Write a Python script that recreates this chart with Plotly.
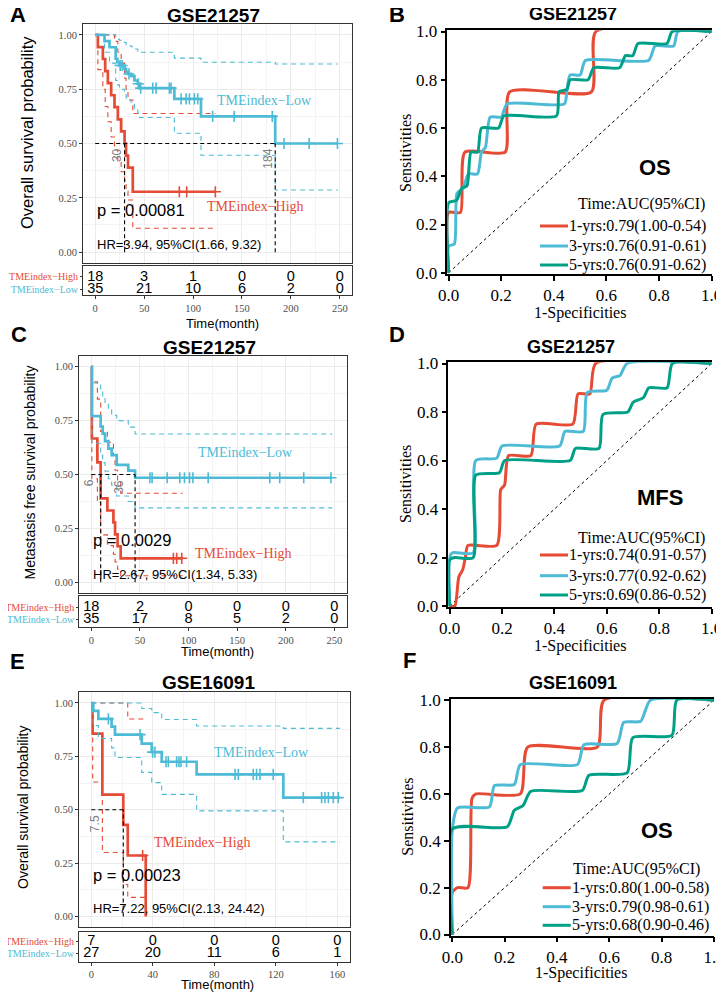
import numpy as np
import plotly.graph_objects as go

W, H = 724, 992
PAGE_PAD = 8  # the page body adds an 8px margin before the figure starts
RED = "#E64B35"
BLUE = "#4DBBD5"
GREEN = "#00A087"
SERIF = "Liberation Serif"
SANS = "Liberation Sans"
GRAY_TXT = "#4D4D4D"
BORDER = "#333333"
MINUS = "\u2212"

# ---------- A: GSE21257 overall survival ----------
A_HIGH_T = [0, 2.7, 7.8, 10.2, 12.9, 16.3, 19.7, 23.1, 26.5, 30.0, 31.5, 33.5, 38.4]
A_HIGH_S = [1, 0.944, 0.889, 0.833, 0.778, 0.722, 0.667, 0.611, 0.556, 0.5, 0.444, 0.389, 0.278]
A_HIGH_UP = [1, 1, 1, 1, 1, 1, 0.97, 0.92, 0.87, 0.80, 0.75, 0.70, 0.638]
A_HIGH_LO = [1, 0.84, 0.75, 0.67, 0.60, 0.53, 0.47, 0.42, 0.37, 0.33, 0.28, 0.24, 0.11]
A_HIGH_END = 122.8
A_HIGH_CENS = [86, 93.5, 122.8]

A_LOW_T = [0, 9.5, 14.6, 20.9, 22.6, 24.8, 29.9, 31.6, 33.3, 36.7, 40.1, 43.5, 45.2, 80.9, 108.1, 184]
A_LOW_S = [1, 0.971, 0.943, 0.89, 0.874, 0.859, 0.844, 0.83, 0.82, 0.81, 0.79, 0.775, 0.755, 0.705, 0.625, 0.5]
A_LOW_UP = [1, 1, 1, 0.99, 0.98, 0.975, 0.965, 0.955, 0.95, 0.945, 0.935, 0.925, 0.92, 0.893, 0.874, 0.866]
A_LOW_LO = [1, 0.92, 0.87, 0.79, 0.77, 0.75, 0.73, 0.71, 0.70, 0.68, 0.66, 0.64, 0.62, 0.547, 0.446, 0.286]
A_LOW_END = 248
A_LOW_CENS = [25.5, 27.5, 34.5, 44, 46.5, 58.8, 62.2, 75.8, 77.5, 87.8, 92.9, 96.3, 101.4, 104.8,
              120, 142, 181, 193, 218.7, 247.6]

A_MEDIANS = [30, 184]
A_MEDIAN_LABELS = [30, 184]
A_RISK_T = [0, 50, 100, 150, 200, 250]
A_RISK_HIGH = [18, 3, 1, 0, 0, 0]
A_RISK_LOW = [35, 21, 10, 6, 2, 0]

# ---------- C: GSE21257 metastasis free survival ----------
C_HIGH_T = [0, 0.5, 6.2, 9.6, 16.5, 22.7, 24.4, 27.0, 30.2]
C_HIGH_S = [1, 0.667, 0.556, 0.389, 0.333, 0.278, 0.222, 0.167, 0.111]
C_HIGH_UP = [1, 0.93, 0.85, 0.70, 0.65, 0.59, 0.52, 0.47, 0.413]
C_HIGH_LO = [1, 0.48, 0.37, 0.22, 0.17, 0.13, 0.094, 0.06, 0.03]
C_HIGH_END = 94
C_HIGH_CENS = [84.4, 87.8, 93]

C_LOW_T = [0, 0.5, 9.6, 11.7, 14.1, 17.5, 20.9, 26.1, 38.0, 45.0]
C_LOW_S = [1, 0.771, 0.722, 0.69, 0.655, 0.62, 0.59, 0.545, 0.518, 0.485]
C_LOW_UP = [1, 0.925, 0.89, 0.86, 0.83, 0.80, 0.775, 0.75, 0.72, 0.688]
C_LOW_LO = [1, 0.645, 0.59, 0.555, 0.515, 0.48, 0.45, 0.40, 0.375, 0.345]
C_LOW_END = 248
C_LOW_CENS = [60.3, 62.5, 78, 91, 95.8, 101, 104.5, 120.2, 183.6, 193.8, 218.5, 246.5]

C_MEDIANS = [9.6, 45]
C_MEDIAN_LABELS = [6, 36]
C_RISK_T = [0, 50, 100, 150, 200, 250]
C_RISK_HIGH = [18, 2, 0, 0, 0, 0]
C_RISK_LOW = [35, 17, 8, 5, 2, 0]

# ---------- E: GSE16091 overall survival ----------
E_HIGH_T = [0, 0.9, 7.2, 20.8, 23.7, 35.4]
E_HIGH_S = [1, 0.857, 0.571, 0.429, 0.286, 0.0]
E_HIGH_UP = [1, 1, 1, 1, 0.925, 0.925]
E_HIGH_LO = [1, 0.63, 0.30, 0.15, 0.09, 0.09]
E_HIGH_END = 35.4
E_HIGH_CENS = [33.4]

E_LOW_T = [0, 1.3, 4.6, 13.2, 15.4, 32.8, 39.3, 45.8, 68.5, 124.9]
E_LOW_S = [1, 0.963, 0.926, 0.889, 0.852, 0.81, 0.77, 0.725, 0.666, 0.557]
E_LOW_UP = [1, 1, 1, 1, 1, 0.974, 0.955, 0.923, 0.892, 0.881]
E_LOW_LO = [1, 0.894, 0.834, 0.79, 0.745, 0.675, 0.627, 0.572, 0.495, 0.35]
E_LOW_END = 161.7
E_LOW_CENS = [11.1, 31.7, 39.9, 41.4, 48.6, 50.1, 55.5, 57, 58.3, 62, 93.5, 95.6, 105.3, 107.5,
              109.7, 118.3, 137.9, 149.8, 152, 154.2, 157.4, 160.6]

E_MEDIANS = [20.8]
E_MEDIAN_LABELS = [7.5]
E_RISK_T = [0, 40, 80, 120, 160]
E_RISK_HIGH = [7, 0, 0, 0, 0]
E_RISK_LOW = [27, 20, 11, 6, 1]

# ---------- ROC curves (1-specificity, sensitivity) ----------
B_NAMES = ["1-yrs:0.79(1.00-0.54)", "3-yrs:0.76(0.91-0.61)", "5-yrs:0.76(0.91-0.62)"]
B_FPR_1 = [0, 0, 0.045, 0.062, 0.215, 0.232, 0.543, 0.56, 1]
B_TPR_1 = [0, 0.25, 0.25, 0.5, 0.5, 0.75, 0.75, 1, 1]
B_FPR_3 = [0, 0, 0.022, 0.032, 0.055, 0.075, 0.11, 0.125, 0.14, 0.158, 0.2, 0.222, 0.44, 0.45,
           0.462, 0.5, 0.52, 0.76, 0.785, 0.855, 0.872, 1]
B_TPR_3 = [0, 0.11, 0.12, 0.33, 0.35, 0.41, 0.41, 0.5, 0.52, 0.645, 0.645, 0.70, 0.70, 0.76,
           0.82, 0.82, 0.88, 0.88, 0.94, 0.94, 1, 1]
B_FPR_5 = [0, 0, 0.03, 0.05, 0.07, 0.085, 0.11, 0.125, 0.19, 0.21, 0.41, 0.42, 0.45, 0.462,
           0.53, 0.552, 0.65, 0.672, 0.70, 0.72, 0.83, 0.85, 1]
B_TPR_5 = [0, 0.29, 0.30, 0.35, 0.36, 0.50, 0.50, 0.60, 0.60, 0.65, 0.65, 0.75, 0.76, 0.80,
           0.80, 0.85, 0.85, 0.90, 0.90, 0.95, 0.95, 1, 1]

D_NAMES = ["1-yrs:0.74(0.91-0.57)", "3-yrs:0.77(0.92-0.62)", "5-yrs:0.69(0.86-0.52)"]
D_FPR_1 = [0, 0.02, 0.035, 0.05, 0.06, 0.07, 0.18, 0.195, 0.21, 0.225, 0.31, 0.33, 0.47, 0.49,
           0.535, 0.557, 1]
D_TPR_1 = [0, 0, 0.12, 0.15, 0.2, 0.25, 0.25, 0.48, 0.5, 0.62, 0.62, 0.75, 0.75, 0.875,
           0.875, 1, 1]
D_FPR_3 = [0, 0, 0.01, 0.09, 0.10, 0.18, 0.20, 0.42, 0.44, 0.51, 0.525, 0.60, 0.62, 0.65, 0.677, 1]
D_TPR_3 = [0, 0.20, 0.22, 0.22, 0.60, 0.61, 0.66, 0.66, 0.72, 0.72, 0.88, 0.89, 0.94, 0.95, 1, 1]
D_FPR_5 = [0, 0, 0.02, 0.09, 0.10, 0.19, 0.21, 0.46, 0.48, 0.57, 0.585, 0.68, 0.70, 0.74, 0.76,
           0.83, 0.85, 1]
D_TPR_5 = [0, 0.19, 0.20, 0.20, 0.54, 0.55, 0.60, 0.60, 0.65, 0.65, 0.79, 0.80, 0.84, 0.86, 0.90,
           0.90, 1, 1]

F_NAMES = ["1-yrs:0.80(1.00-0.58)", "3-yrs:0.79(0.98-0.61)", "5-yrs:0.68(0.90-0.46)"]
F_FPR_1 = [0, 0, 0.02, 0.06, 0.075, 0.09, 0.26, 0.288, 0.554, 0.58, 1]
F_TPR_1 = [0, 0.18, 0.2, 0.2, 0.58, 0.6, 0.6, 0.8, 0.8, 1, 1]
F_FPR_3 = [0, 0, 0.02, 0.142, 0.161, 0.237, 0.26, 0.478, 0.503, 0.63, 0.655, 0.72, 0.757, 1]
F_TPR_3 = [0, 0.45, 0.54, 0.545, 0.635, 0.64, 0.725, 0.725, 0.81, 0.815, 0.905, 0.91, 1, 1]
F_FPR_5 = [0, 0, 0.21, 0.237, 0.27, 0.30, 0.497, 0.522, 0.668, 0.69, 0.839, 0.858, 1]
F_TPR_5 = [0, 0.45, 0.46, 0.53, 0.55, 0.611, 0.615, 0.68, 0.69, 0.84, 0.85, 1, 1]


# page pixel -> paper fraction
def fx(p):
    return (p - PAGE_PAD) / W


def fy(p):
    return 1 - (p - PAGE_PAD) / H


fig = go.Figure()
annotations = []
shapes = []


def step(xa, ya, t, s, t_end, color, width, dash):
    fig.add_trace(go.Scatter(x=list(t) + [t_end], y=list(s) + [s[-1]], mode="lines",
                             line=dict(color=color, width=width, dash=dash, shape="hv"),
                             xaxis=xa, yaxis=ya, showlegend=False, hoverinfo="skip"))


def add_group(xa, ya, t, s, up, lo, t_end, cens, color):
    step(xa, ya, t, up, t_end, color, 1.1, "5px,4px")
    step(xa, ya, t, lo, t_end, color, 1.1, "5px,4px")
    step(xa, ya, t, s, t_end, color, 2.7, "solid")
    idx = np.searchsorted(t, cens, side="right") - 1
    fig.add_trace(go.Scatter(x=cens, y=np.array(s)[idx], mode="markers",
                             marker=dict(symbol="cross-thin-open", size=8, color=color,
                                         line=dict(color=color, width=1.6)),
                             xaxis=xa, yaxis=ya, showlegend=False, hoverinfo="skip"))


def add_medians(xa, ya, medians, labels):
    dash = dict(color="black", width=1.1, dash="4px,3px")
    fig.add_trace(go.Scatter(x=[0, max(medians)], y=[0.5, 0.5], mode="lines", line=dash,
                             xaxis=xa, yaxis=ya, showlegend=False, hoverinfo="skip"))
    for m in medians:
        fig.add_trace(go.Scatter(x=[m, m], y=[0, 0.5], mode="lines", line=dash,
                                 xaxis=xa, yaxis=ya, showlegend=False, hoverinfo="skip"))
    for lab in labels:
        annotations.append(dict(x=lab, y=0.5, xref=xa, yref=ya, text=f"{lab:g}", textangle=-90,
                                showarrow=False, xanchor="center", yanchor="top", xshift=-8, yshift=-3,
                                font=dict(family=SANS, size=12, color="#7F7F7F")))


def add_risk(xa, ya, times, high, low):
    for yv, vals in [(1, high), (0, low)]:
        fig.add_trace(go.Scatter(x=times, y=[yv] * len(times), mode="text", text=[str(v) for v in vals],
                                 textfont=dict(family=SANS, size=14.5, color="black"),
                                 xaxis=xa, yaxis=ya, showlegend=False, hoverinfo="skip"))


def km_layout(n_main, n_risk, xpx, ypx, rypx, xr, dt, risk_range):
    xm, ym = f"x{n_main}", f"y{n_main}"
    xk, yk = f"x{n_risk}", f"y{n_risk}"
    box = dict(showline=True, mirror=True, linecolor=BORDER, linewidth=1, zeroline=False)
    tickfont = dict(family=SERIF, size=10.5, color=GRAY_TXT)
    fig.layout[f"xaxis{n_main}"] = dict(domain=[fx(xpx[0]), fx(xpx[1])], range=xr, anchor=ym,
                                        showticklabels=False, ticks="", dtick=dt, tick0=0,
                                        showgrid=True, gridcolor="#EBEBEB",
                                        minor=dict(dtick=dt / 2, showgrid=True, gridcolor="#F4F4F4"), **box)
    fig.layout[f"yaxis{n_main}"] = dict(domain=[fy(ypx[1]), fy(ypx[0])], range=[-0.05, 1.05], anchor=xm,
                                        dtick=0.25, tick0=0, tickformat=".2f", tickfont=tickfont,
                                        ticks="outside", ticklen=3, tickcolor=BORDER,
                                        showgrid=True, gridcolor="#EBEBEB",
                                        minor=dict(dtick=0.125, showgrid=True, gridcolor="#F4F4F4"), **box)
    fig.layout[f"xaxis{n_risk}"] = dict(domain=[fx(xpx[0]), fx(xpx[1])], range=xr, anchor=yk,
                                        dtick=dt, tick0=0, ticks="outside", ticklen=3, tickcolor=BORDER,
                                        tickfont=tickfont, showgrid=False, **box)
    fig.layout[f"yaxis{n_risk}"] = dict(domain=[fy(rypx[1]), fy(rypx[0])], range=risk_range, anchor=xk,
                                        tickvals=[1, 0],
                                        ticktext=[f'<span style="color:{RED}">TMEindex{MINUS}High</span>',
                                                  f'<span style="color:{BLUE}">TMEindex{MINUS}Low</span>'],
                                        tickfont=dict(family=SERIF, size=10), ticks="outside", ticklen=2,
                                        tickcolor=BORDER, showgrid=False, **box)


def km_texts(xa, ya, low_xy, high_xy, p_text, hr_text):
    annotations.append(dict(x=low_xy[0], y=low_xy[1], xref=xa, yref=ya, text=f"TMEindex{MINUS}Low",
                            showarrow=False, font=dict(family=SERIF, size=14, color=BLUE)))
    annotations.append(dict(x=high_xy[0], y=high_xy[1], xref=xa, yref=ya, text=f"TMEindex{MINUS}High",
                            showarrow=False, font=dict(family=SERIF, size=14, color=RED)))
    annotations.append(dict(x=0, y=0.195, xref=xa, yref=ya, text=p_text, xanchor="left",
                            showarrow=False, font=dict(family=SANS, size=16.5, color="black")))
    annotations.append(dict(x=0, y=0.036, xref=xa, yref=ya, text=hr_text, xanchor="left",
                            showarrow=False, font=dict(family=SANS, size=13, color="black")))


def roc_panel(n, xpx, ypx, fprs, tprs, names, key_x, key_ys):
    xa, ya = f"x{n}", f"y{n}"
    fig.add_trace(go.Scatter(x=[0, 1], y=[0, 1], mode="lines",
                             line=dict(color="black", width=1, dash="dot"),
                             xaxis=xa, yaxis=ya, showlegend=False, hoverinfo="skip"))
    for fpr, tpr, name, color, ky in zip(fprs, tprs, names, [RED, BLUE, GREEN], key_ys):
        fig.add_trace(go.Scatter(x=fpr, y=tpr, mode="lines", name=name, showlegend=False,
                                 line=dict(color=color, width=3, shape="spline", smoothing=0.6),
                                 xaxis=xa, yaxis=ya, hoverinfo="skip"))
        # legend key drawn by hand so the rows keep the reference spacing
        shapes.append(dict(type="line", xref="paper", yref="paper", x0=fx(key_x), x1=fx(key_x + 28),
                           y0=fy(ky), y1=fy(ky), line=dict(color=color, width=3)))
        annotations.append(dict(x=fx(key_x + 27), y=fy(ky), xref="paper", yref="paper", text=name,
                                showarrow=False, xanchor="left", yanchor="middle",
                                font=dict(family=SERIF, size=16, color="black")))
    common = dict(showline=True, linecolor="black", linewidth=1.5, zeroline=False, showgrid=False,
                  ticks="outside", ticklen=5, tickwidth=1.5, tickcolor="black", dtick=0.2, tick0=0,
                  tickformat=".1f", tickfont=dict(family=SERIF, size=17, color="black"),
                  layer="below traces")
    fig.layout[f"xaxis{n}"] = dict(domain=[fx(xpx[0]), fx(xpx[1])], range=[-0.005, 1.0], anchor=ya,
                                   mirror=True, **common)
    fig.layout[f"yaxis{n}"] = dict(domain=[fy(ypx[1]), fy(ypx[0])], range=[-0.005, 1.005], anchor=xa,
                                   mirror=False, **common)


# ---- KM panels ----
add_group("x", "y", A_HIGH_T, A_HIGH_S, A_HIGH_UP, A_HIGH_LO, A_HIGH_END, A_HIGH_CENS, RED)
add_group("x", "y", A_LOW_T, A_LOW_S, A_LOW_UP, A_LOW_LO, A_LOW_END, A_LOW_CENS, BLUE)
add_medians("x", "y", A_MEDIANS, A_MEDIAN_LABELS)
add_risk("x2", "y2", A_RISK_T, A_RISK_HIGH, A_RISK_LOW)
km_layout("", 2, (83, 352), (24, 263), (265.7, 295), [-12.5, 262.5], 50, [-0.44, 1.9])
km_texts("x", "y", (172.8, 0.70), (164, 0.209), "p = 0.00081", "HR=3.94, 95%CI(1.66, 9.32)")

add_group("x4", "y4", C_HIGH_T, C_HIGH_S, C_HIGH_UP, C_HIGH_LO, C_HIGH_END, C_HIGH_CENS, RED)
add_group("x4", "y4", C_LOW_T, C_LOW_S, C_LOW_UP, C_LOW_LO, C_LOW_END, C_LOW_CENS, BLUE)
add_medians("x4", "y4", C_MEDIANS, C_MEDIAN_LABELS)
add_risk("x5", "y5", C_RISK_T, C_RISK_HIGH, C_RISK_LOW)
km_layout(4, 5, (79.2, 346.5), (356, 593), (596, 627), [-12.5, 262.5], 50, [-0.62, 1.96])
km_texts("x4", "y4", (159, 0.603), (157, 0.134), "p = 0.0029", "HR=2.67, 95%CI(1.34, 5.33)")

add_group("x7", "y7", E_HIGH_T, E_HIGH_S, E_HIGH_UP, E_HIGH_LO, E_HIGH_END, E_HIGH_CENS, RED)
add_group("x7", "y7", E_LOW_T, E_LOW_S, E_LOW_UP, E_LOW_LO, E_LOW_END, E_LOW_CENS, BLUE)
add_medians("x7", "y7", E_MEDIANS, E_MEDIAN_LABELS)
add_risk("x8", "y8", E_RISK_T, E_RISK_HIGH, E_RISK_LOW)
km_layout(7, 8, (79, 349.6), (692.3, 927.3), (931.7, 961.7), [-8, 168], 40, [-0.64, 1.8])
km_texts("x7", "y7", (110.4, 0.767), (72.2, 0.348), "p = 0.00023", "HR=7.22, 95%CI(2.13, 24.42)")

# ---- ROC panels ----
roc_panel(3, (447.3, 711.7), (30.3, 274), [B_FPR_1, B_FPR_3, B_FPR_5], [B_TPR_1, B_TPR_3, B_TPR_5],
          B_NAMES, 540, (226, 246, 265))
roc_panel(6, (448.3, 711.7), (362.3, 607.3), [D_FPR_1, D_FPR_3, D_FPR_5], [D_TPR_1, D_TPR_3, D_TPR_5],
          D_NAMES, 540, (555, 575.7, 595))
roc_panel(9, (451, 714), (699, 935.7), [F_FPR_1, F_FPR_3, F_FPR_5], [F_TPR_1, F_TPR_3, F_TPR_5],
          F_NAMES, 542.7, (887.7, 906.7, 925.3))


def paper_text(text, x, y, size, family=SANS, bold=False, angle=0, xanchor="center", color="black"):
    annotations.append(dict(x=fx(x), y=fy(y), xref="paper", yref="paper", showarrow=False,
                            text=f"<b>{text}</b>" if bold else text, textangle=angle, xanchor=xanchor,
                            yanchor="middle", font=dict(family=family, size=size, color=color)))


for letter, x, y in [("A", 17.5, 14), ("B", 397, 14), ("C", 19, 334),
                     ("D", 397, 334), ("E", 17.5, 661), ("F", 409, 660)]:
    paper_text(letter, x, y, 22, bold=True)

for title, x, y in [("GSE21257", 213, 15), ("GSE21257", 209, 347), ("GSE16091", 208, 682)]:
    paper_text(title, x, y, 19, bold=True)
for title, x, y in [("GSE21257", 573, 14), ("GSE21257", 571, 347), ("GSE16091", 572.5, 683)]:
    paper_text(title, x, y, 18, bold=True)

paper_text("Overall survival probability", 27.5, 132.5, 16.5, angle=-90)
paper_text("Metastasis free survival probability", 29, 472.5, 14, angle=-90)
paper_text("Overall survival probability", 22.5, 807.5, 14, angle=-90)
for x, y in [(222, 323), (217.5, 651), (217.5, 984)]:
    paper_text("Time(month)", x, y, 13)

for x, y in [(405, 153), (405, 484), (406.7, 817)]:
    paper_text("Sensitivities", x, y, 16, family=SERIF, angle=-90)
for x, y in [(580, 313), (580, 646), (581, 973)]:
    paper_text("1-Specificities", x, y, 16, family=SERIF)

for text, x, y in [("OS", 655, 167), ("MFS", 660, 498), ("OS", 657, 830)]:
    paper_text(text, x, y, 22, bold=True)
for x, y, anchor in [(707, 204, "right"), (707, 538, "right"), (571, 869, "left")]:
    paper_text("Time:AUC(95%CI)", x, y, 16, family=SERIF, xanchor=anchor)

fig.update_layout(template="none", width=W, height=H,
                  margin=dict(l=0, r=0, t=0, b=0, autoexpand=False),
                  paper_bgcolor="white", plot_bgcolor="white", showlegend=False,
                  annotations=annotations, shapes=shapes, hovermode=False)

fig.write_html("out.html")
